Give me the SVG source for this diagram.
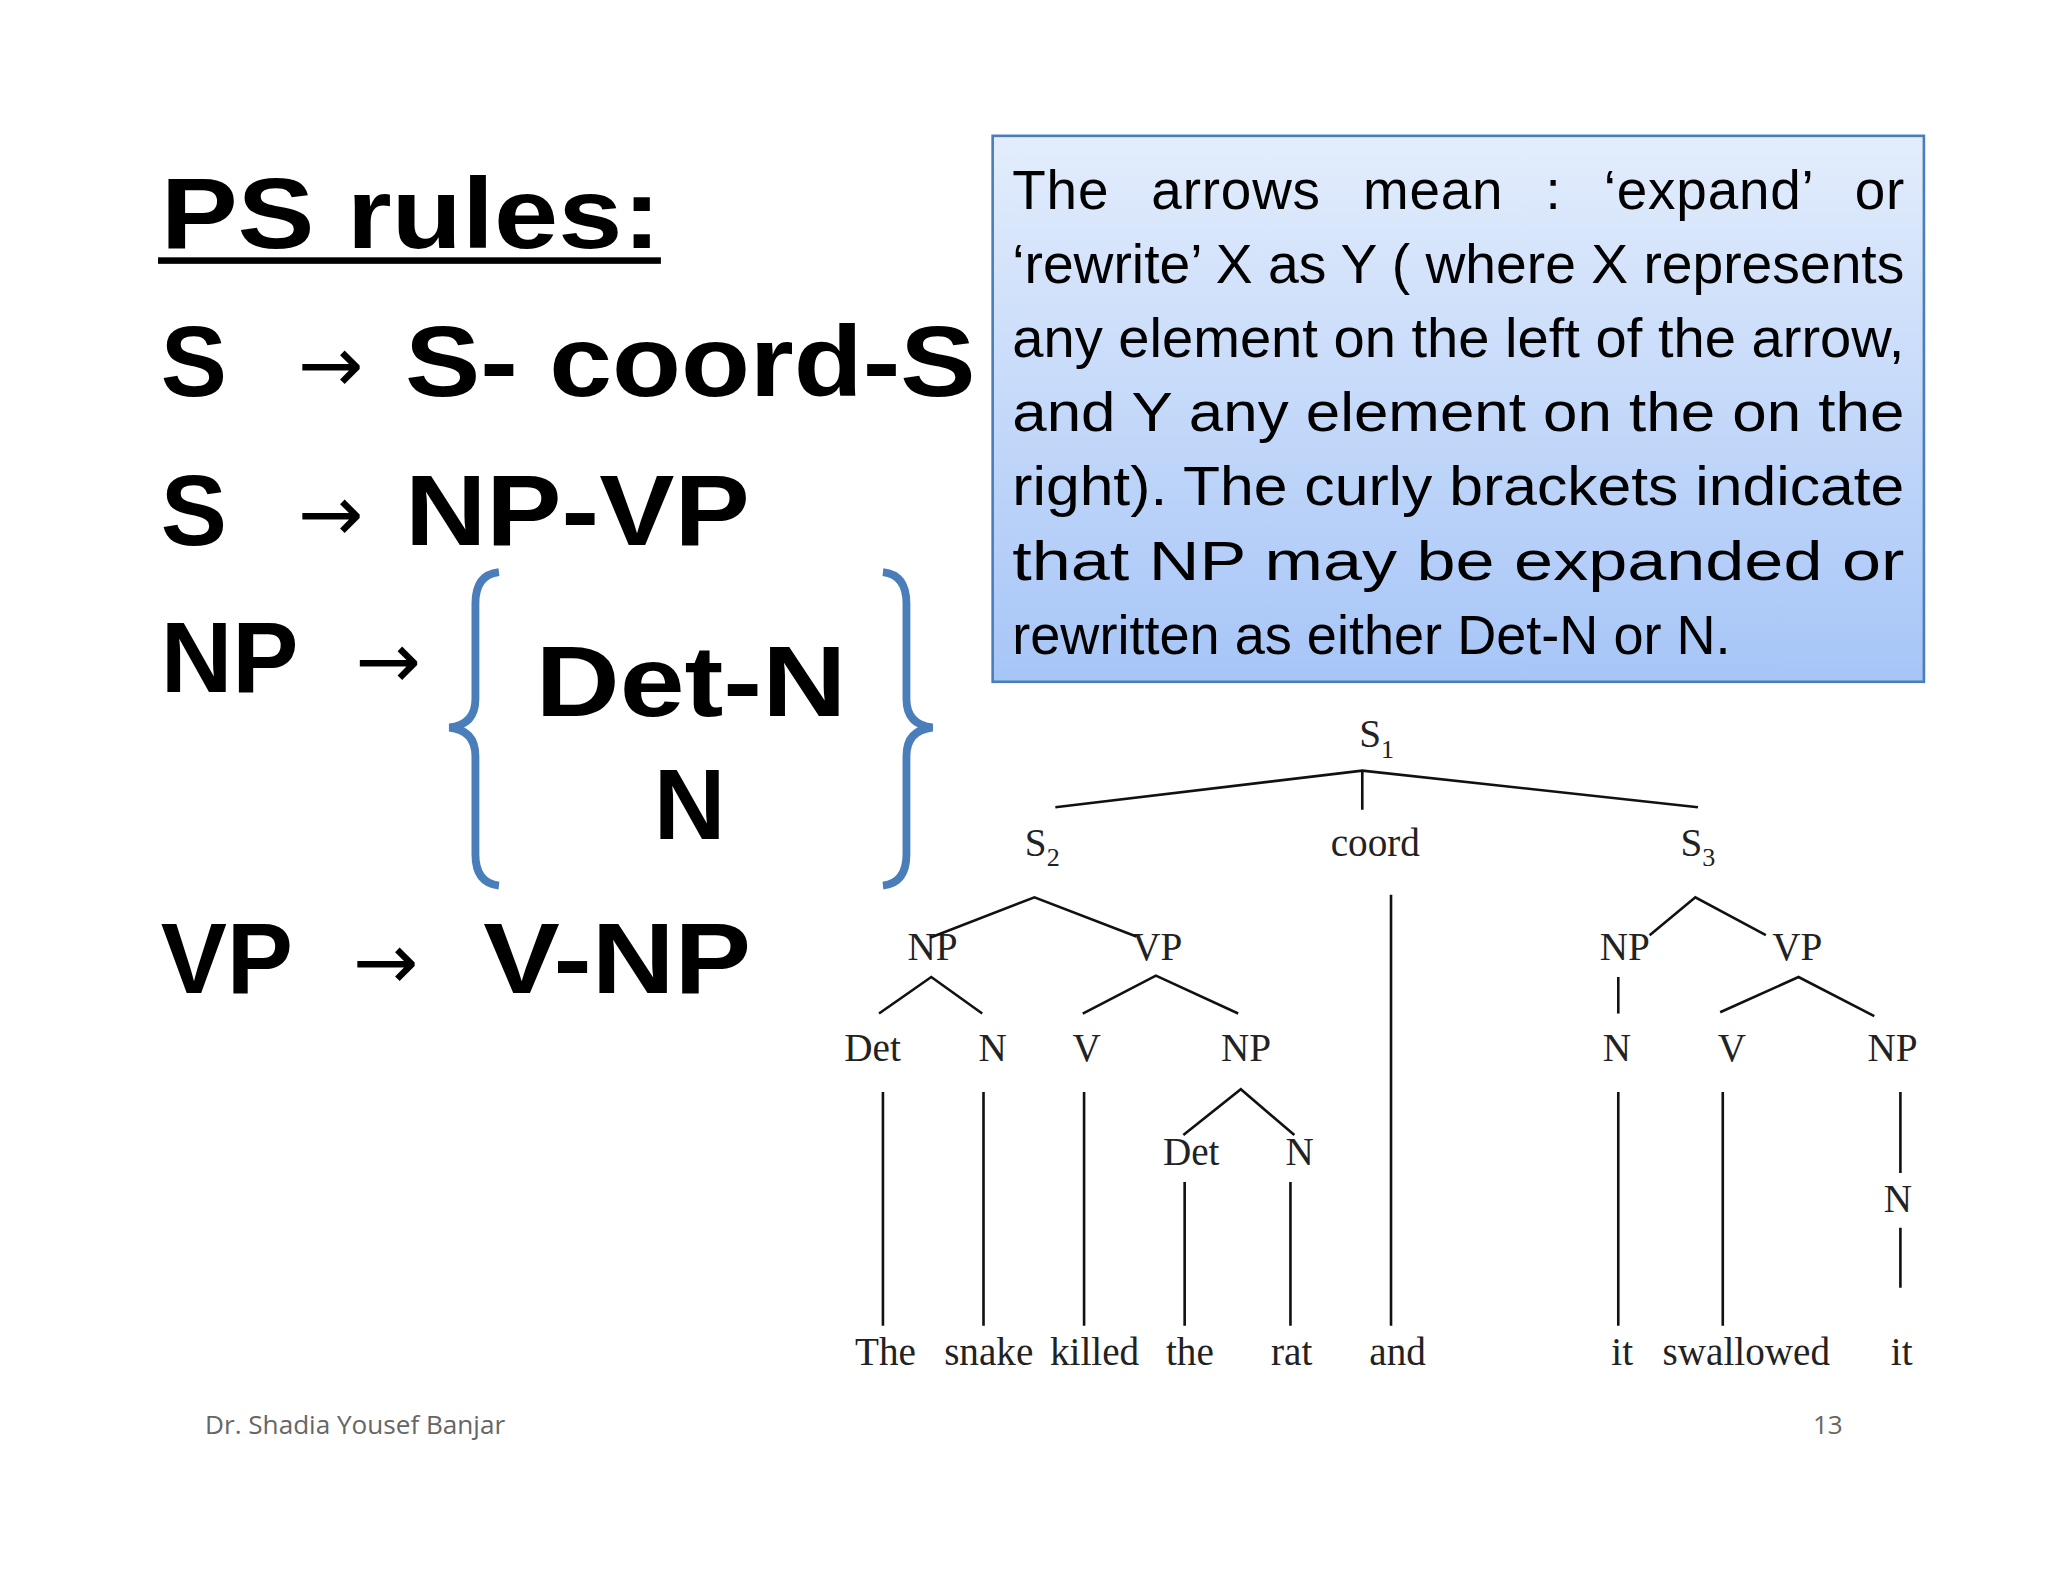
<svg xmlns="http://www.w3.org/2000/svg" width="2048" height="1582" viewBox="0 0 2048 1582">
<defs>
<linearGradient id="bg" x1="0" y1="0" x2="0" y2="1"><stop offset="0" stop-color="#e3edfc"/><stop offset="1" stop-color="#a6c5f7"/></linearGradient>
<style>
.big{font-family:"Liberation Sans",Arial,sans-serif;font-weight:bold;font-size:76px;fill:#000}
.arr{font-family:"DejaVu Sans",sans-serif;font-size:60px;fill:#000}
.box{font-family:"Liberation Sans",Arial,sans-serif;font-size:42px;fill:#000}
.tr{font-family:"Liberation Serif","Times New Roman",serif;font-size:30px;fill:#222;text-anchor:middle}
.ln{stroke:#111;stroke-width:2;fill:none}
.ft{font-family:"Open Sans","Liberation Sans",sans-serif;font-size:20px;fill:#666}
.br{stroke:#4a7ebb;stroke-width:6;fill:none}
</style>
</defs>
<rect width="2048" height="1582" fill="#fff"/>
<g transform="scale(1.30612)">
<g id="rules">
<text class="big" x="123" y="190" textLength="383" lengthAdjust="spacingAndGlyphs">PS rules:</text>
<rect x="121" y="197" width="385" height="5" fill="#000"/>
<text class="big" x="123" y="303">S</text><text class="arr" x="228" y="300">→</text><text class="big" x="310" y="303" textLength="437" lengthAdjust="spacingAndGlyphs">S- coord-S</text>
<text class="big" x="123" y="417">S</text><text class="arr" x="228" y="414">→</text><text class="big" x="310" y="417" textLength="264" lengthAdjust="spacingAndGlyphs">NP-VP</text>
<text class="big" x="123" y="530">NP</text><text class="arr" x="272" y="527">→</text>
<text class="big" x="410" y="548" textLength="238" lengthAdjust="spacingAndGlyphs">Det-N</text>
<text class="big" x="528" y="642" text-anchor="middle">N</text>
<text class="big" x="123" y="760">VP</text><text class="arr" x="270" y="757">→</text><text class="big" x="370" y="760" textLength="205" lengthAdjust="spacingAndGlyphs">V-NP</text>
<path class="br" d="M382,438 Q364,440 364,462 L364,535 Q364,555 344,557 Q364,559 364,579 L364,654 Q364,676 382,678"/>
<path class="br" d="M676,438 Q694,440 694,462 L694,535 Q694,555 714,557 Q694,559 694,579 L694,654 Q694,676 676,678"/>
</g>
<g id="note">
<rect x="760" y="104" width="713" height="418" fill="url(#bg)" stroke="#4a7ebb" stroke-width="2"/>
<text class="box" x="775" y="160" textLength="683" lengthAdjust="spacing" word-spacing="20">The arrows mean : ‘expand’ or</text>
<text class="box" x="775" y="217" textLength="683" lengthAdjust="spacingAndGlyphs">‘rewrite’ X as Y ( where X represents</text>
<text class="box" x="775" y="273" textLength="683" lengthAdjust="spacingAndGlyphs">any element on the left of the arrow,</text>
<text class="box" x="775" y="330" textLength="683" lengthAdjust="spacingAndGlyphs">and Y any element on the on the</text>
<text class="box" x="775" y="387" textLength="683" lengthAdjust="spacingAndGlyphs">right). The curly brackets indicate</text>
<text class="box" x="775" y="444" textLength="683" lengthAdjust="spacingAndGlyphs">that NP may be expanded or</text>
<text class="box" x="775" y="501" textLength="550" lengthAdjust="spacingAndGlyphs">rewritten as either Det-N or N.</text>
</g>
<g id="tree-labels">
<text class="tr" x="1054" y="572" fill="#345">S<tspan font-size="20" dy="8">1</tspan></text>
<text class="tr" x="798" y="655">S<tspan font-size="20" dy="8">2</tspan></text>
<text class="tr" x="1053" y="655">coord</text>
<text class="tr" x="1300" y="655">S<tspan font-size="20" dy="8">3</tspan></text>
<text class="tr" x="714" y="735">NP</text><text class="tr" x="886" y="735">VP</text>
<text class="tr" x="1244" y="735">NP</text><text class="tr" x="1376" y="735">VP</text>
<text class="tr" x="668" y="812">Det</text><text class="tr" x="760" y="812">N</text><text class="tr" x="832" y="812">V</text><text class="tr" x="954" y="812">NP</text>
<text class="tr" x="1238" y="812">N</text><text class="tr" x="1326" y="812">V</text><text class="tr" x="1449" y="812">NP</text>
<text class="tr" x="912" y="892">Det</text><text class="tr" x="995" y="892">N</text>
<text class="tr" x="1453" y="928">N</text>
<text class="tr" x="678" y="1045">The</text><text class="tr" x="757" y="1045">snake</text><text class="tr" x="838" y="1045">killed</text><text class="tr" x="911" y="1045">the</text><text class="tr" x="989" y="1045">rat</text><text class="tr" x="1070" y="1045">and</text>
<text class="tr" x="1242" y="1045">it</text><text class="tr" x="1337" y="1045">swallowed</text><text class="tr" x="1456" y="1045">it</text>
</g>
<g id="connectors" class="ln">
<path d="M808,618 L1043,590 L1300,618 M1043,590 V620"/>
<path d="M1065,685 V1015"/>
<path d="M712,718 L792,687 L870,717"/>
<path d="M673,776 L713,748 L752,776"/>
<path d="M829,776 L885,747 L948,776"/>
<path d="M676,836 V1015 M753,836 V1015 M830,836 V1015"/>
<path d="M906,869 L950,834 L991,869"/>
<path d="M907,905 V1015 M988,905 V1015"/>
<path d="M1263,716 L1298,687 L1352,716"/>
<path d="M1239,748 V776"/>
<path d="M1317,775 L1377,748 L1435,778"/>
<path d="M1239,836 V1015 M1319,836 V1015 M1455,836 V898 M1455,940 V986"/>
</g>
<g id="footer">
<text class="ft" x="157" y="1098">Dr. Shadia Yousef Banjar</text>
<text class="ft" x="1388" y="1098">13</text>
</g>
</g>
</svg>
